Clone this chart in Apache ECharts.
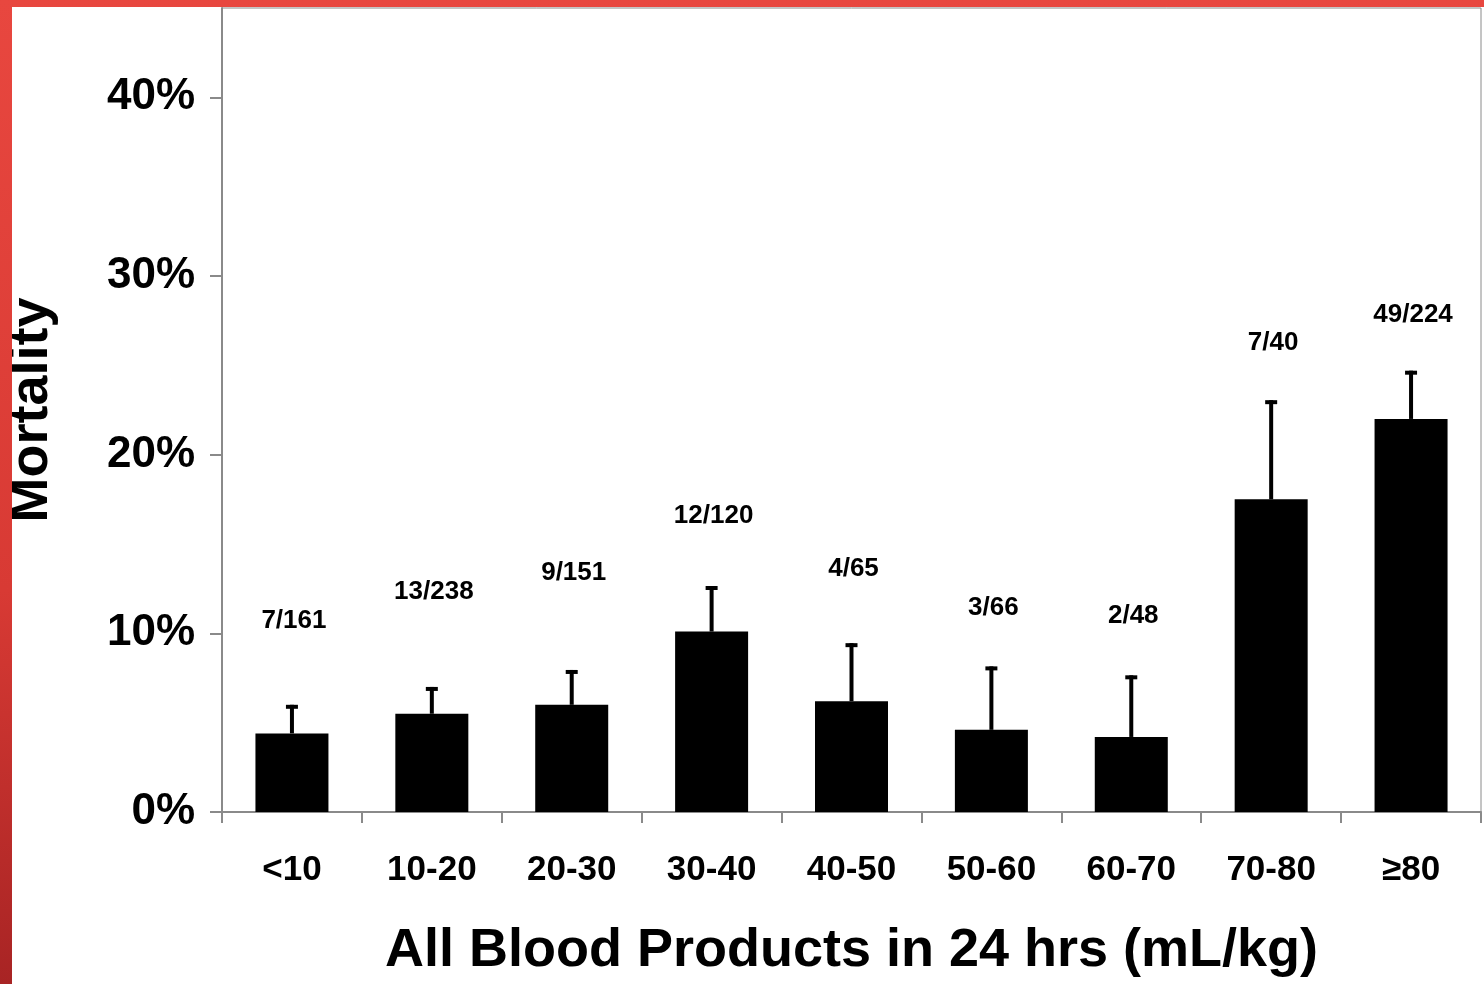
<!DOCTYPE html>
<html>
<head>
<meta charset="utf-8">
<script src="https://cdn.jsdelivr.net/npm/echarts@6/dist/echarts.min.js"></script>
<style>
  html, body { margin: 0; padding: 0; width: 1484px; height: 984px; overflow: hidden; }
  body { background: linear-gradient(to bottom, #e8473f 0%, #d83a34 60%, #a82424 100%); position: relative; }
  #chart { position: absolute; left: 12px; top: 7px; width: 1472px; height: 977px; background: #fff; }
</style>
</head>
<body>
<div id="chart"></div>
<script>
// categories (mL/kg)
var categories = ["<10", "10-20", "20-30", "30-40", "40-50", "50-60", "60-70", "70-80", "≥80"];
// mortality %, bar height
var mortality = [4.4, 5.5, 6.0, 10.1, 6.2, 4.6, 4.2, 17.5, 22.0];
// upper end of error bar %
var errUpper = [6.0, 7.0, 7.95, 12.65, 9.45, 8.15, 7.65, 23.05, 24.7];
// deaths / total labels
var counts = ["7/161", "13/238", "9/151", "12/120", "4/65", "3/66", "2/48", "7/40", "49/224"];
// level (in %) where each count label sits
var countLevel = [10.7, 12.3, 13.4, 16.55, 13.6, 11.45, 11.0, 26.25, 27.8];
var yTicks = [0, 10, 20, 30, 40];

var myChart = echarts.init(document.getElementById("chart"));
var font = "'Liberation Sans', Arial, sans-serif";

myChart.setOption({
  animation: false,
  grid: {
    left: 210,
    top: 1,
    right: 3,
    bottom: 172,
    outerBoundsMode: "none",
    containLabel: false,
    show: true,
    borderColor: "#8a8a8a",
    borderWidth: 1,
  },
  xAxis: {
    type: "category",
    data: categories,
    name: "All Blood Products in 24 hrs (mL/kg)",
    nameLocation: "middle",
    nameGap: 112,
    nameTextStyle: { color: "#000", fontFamily: font, fontWeight: "bold", fontSize: 54 },
    axisLine: { lineStyle: { color: "#8a8a8a", width: 2 } },
    axisTick: { show: true, length: 11, lineStyle: { color: "#8a8a8a", width: 2 } },
    axisLabel: { color: "#000", fontFamily: font, fontWeight: "bold", fontSize: 35, margin: 41 },
  },
  yAxis: {
    type: "value",
    min: 0,
    max: 45,
    interval: 10,
    name: "Mortality",
    nameLocation: "middle",
    nameRotate: 90,
    nameGap: 163,
    nameTextStyle: { color: "#000", fontFamily: font, fontWeight: "bold", fontSize: 54 },
    splitLine: { show: false },
    axisLine: { show: true, lineStyle: { color: "#8a8a8a", width: 2 } },
    axisTick: { show: true, length: 12, lineStyle: { color: "#8a8a8a", width: 2 } },
    axisLabel: {
      color: "#000", fontFamily: font, fontWeight: "bold", fontSize: 44, margin: 27,
      padding: [9, 0, 0, 0],
      showMaxLabel: false,
      formatter: function (v) {
        return yTicks.indexOf(v) >= 0 ? v + "%" : "";
      },
    },
  },
  series: [
    {
      type: "bar",
      data: mortality,
      barWidth: 73,
      itemStyle: { color: "#000" },
      z: 2,
    },
    {
      type: "custom",
      z: 3,
      data: mortality.map(function (v, i) { return [i, v, errUpper[i]]; }),
      renderItem: function (params, api) {
        var base = api.coord([api.value(0), api.value(1)]);
        var top = api.coord([api.value(0), api.value(2)]);
        return {
          type: "group",
          children: [
            {
              type: "line",
              shape: { x1: base[0], y1: base[1], x2: top[0], y2: top[1] },
              style: { stroke: "#000", lineWidth: 4 },
            },
            {
              type: "rect",
              shape: { x: top[0] - 6, y: top[1], width: 12, height: 4 },
              style: { fill: "#000" },
            },
          ],
        };
      },
    },
    {
      type: "scatter",
      symbolSize: 0,
      itemStyle: { opacity: 1 },
      data: countLevel.map(function (v, i) { return [i, v]; }),
      label: {
        show: true,
        position: "inside",
        offset: [2, 0],
        color: "#000",
        opacity: 1,
        fontFamily: font,
        fontWeight: "bold",
        fontSize: 26,
        formatter: function (p) { return counts[p.dataIndex]; },
      },
      z: 4,
    },
  ],
});
</script>
</body>
</html>
